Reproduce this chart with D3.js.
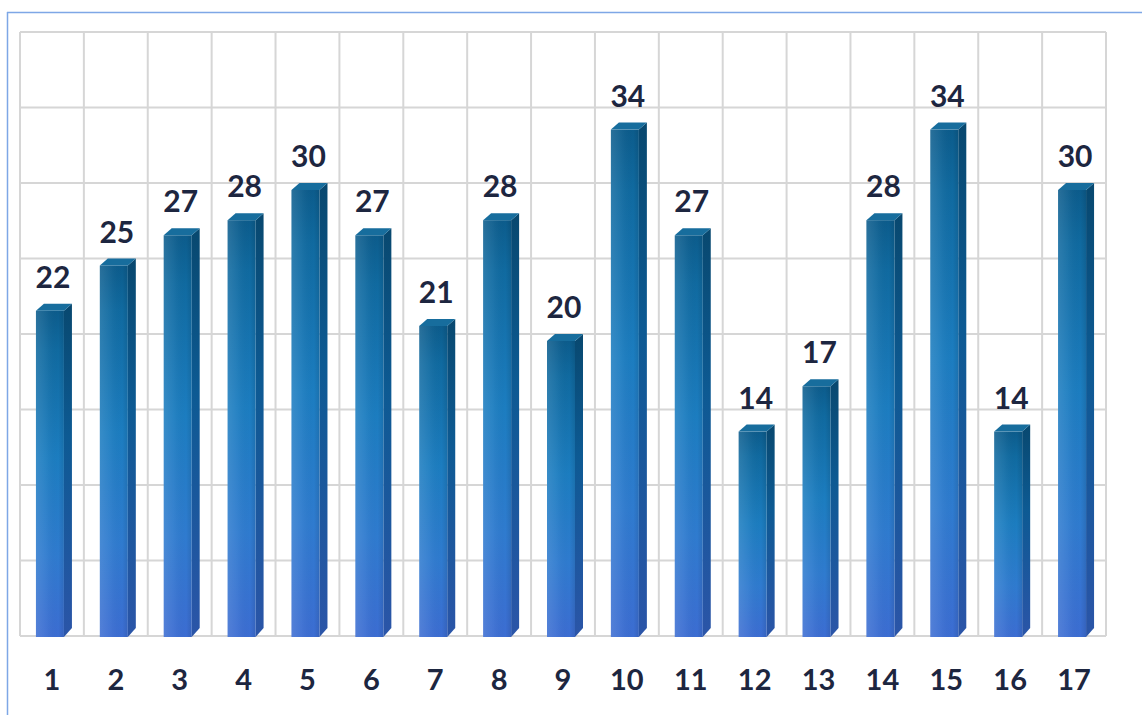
<!DOCTYPE html>
<html>
<head>
<meta charset="utf-8">
<script src="https://cdn.jsdelivr.net/npm/d3@7"></script>
<style>
  html, body { margin: 0; padding: 0; background: #ffffff; }
  svg { display: block; }
</style>
</head>
<body>
<svg id="chart" width="1142" height="715"></svg>
<script>
// Categories and values
const categories = ["1","2","3","4","5","6","7","8","9","10","11","12","13","14","15","16","17"];
const values = [22, 25, 27, 28, 30, 27, 21, 28, 20, 34, 27, 14, 17, 28, 34, 14, 30];
const gridTicks = [0, 5, 10, 15, 20, 25, 30, 35, 40];

const svg = d3.select("#chart");

// Plot geometry
const plotLeft = 20, plotRight = 1106, plotTop = 32, plotBottom = 636;
const depthX = 8, depthY = 7;

const x = d3.scaleBand().domain(categories).range([plotLeft, plotRight]).padding(0);
const y = d3.scaleLinear().domain([0, 40]).range([plotBottom, plotTop]);

// Outer frame lines (top and left)
svg.append("line").attr("x1", 7).attr("x2", 1142).attr("y1", 12.5).attr("y2", 12.5)
  .attr("stroke", "#7ea7e6").attr("stroke-width", 1.5);
svg.append("line").attr("x1", 7.5).attr("x2", 7.5).attr("y1", 12).attr("y2", 715)
  .attr("stroke", "#7ea7e6").attr("stroke-width", 1.5);

// Gradients
const defs = svg.append("defs");
const gFront = defs.append("linearGradient").attr("id", "front").attr("x1", 0).attr("y1", 0).attr("x2", 0).attr("y2", 1);
[[0, "#0c5c8c"], [0.12, "#106aa0"], [0.45, "#1c7dc0"], [0.75, "#2f7bcf"], [1, "#3c6dd2"]]
  .forEach(([o, c]) => gFront.append("stop").attr("offset", o).attr("stop-color", c));
const gShine = defs.append("linearGradient").attr("id", "shine").attr("x1", 0).attr("y1", 0).attr("x2", 1).attr("y2", 0);
[[0, "#ffffff", 0.12], [0.35, "#ffffff", 0.05], [0.8, "#000000", 0.0], [1, "#000000", 0.10]]
  .forEach(([o, c, a]) => gShine.append("stop").attr("offset", o).attr("stop-color", c).attr("stop-opacity", a));
const gSide = defs.append("linearGradient").attr("id", "side").attr("x1", 0).attr("y1", 0).attr("x2", 0).attr("y2", 1);
[[0, "#08486f"], [0.4, "#0d5a93"], [1, "#2b55a8"]]
  .forEach(([o, c]) => gSide.append("stop").attr("offset", o).attr("stop-color", c));

// Grid: horizontal lines at value ticks, vertical lines at category boundaries
const grid = svg.append("g").attr("stroke", "#d6d6d6").attr("stroke-width", 2);
grid.selectAll("line.h").data(gridTicks).join("line")
  .attr("x1", plotLeft).attr("x2", plotRight)
  .attr("y1", d => y(d)).attr("y2", d => y(d));
const bounds = categories.map(c => x(c)).concat([plotRight]);
grid.selectAll("line.v").data(bounds).join("line")
  .attr("x1", d => d).attr("x2", d => d)
  .attr("y1", plotTop).attr("y2", plotBottom);

// Bars
const bars = svg.append("g").selectAll("g").data(categories.map((c, i) => ({ c, v: values[i] }))).join("g");
bars.each(function (d) {
  const g = d3.select(this);
  const cx = x(d.c) + x.bandwidth() / 2;
  const x0 = cx - 16, x1 = cx + 12;
  const ft = y(d.v) + depthY;          // front face top
  const fb = plotBottom + 1;           // front face bottom
  // side face
  g.append("path")
    .attr("d", `M${x1},${ft} L${x1 + depthX},${ft - depthY} L${x1 + depthX},${fb - depthY - 2} L${x1},${fb} Z`)
    .attr("fill", "url(#side)");
  // front face
  g.append("rect").attr("x", x0).attr("y", ft).attr("width", x1 - x0).attr("height", fb - ft)
    .attr("fill", "url(#front)");
  g.append("rect").attr("x", x0).attr("y", ft).attr("width", x1 - x0).attr("height", fb - ft)
    .attr("fill", "url(#shine)");
  // top face
  g.append("path")
    .attr("d", `M${x0},${ft} L${x0 + depthX},${ft - depthY} L${x1 + depthX},${ft - depthY} L${x1},${ft} Z`)
    .attr("fill", "#176d9d");
  // value label
  g.append("text")
    .attr("x", cx + 1).attr("y", y(d.v) - 16)
    .attr("text-anchor", "middle")
    .attr("font-family", "Lato, 'Open Sans', sans-serif")
    .attr("font-weight", 700).attr("font-size", 30)
    .attr("fill", "#1d2640")
    .text(d.v);
});

// Category labels
svg.append("g").selectAll("text").data(categories).join("text")
  .attr("x", d => x(d) + x.bandwidth() / 2)
  .attr("y", 690)
  .attr("text-anchor", "middle")
  .attr("font-family", "Lato, 'Open Sans', sans-serif")
  .attr("font-weight", 700).attr("font-size", 29)
  .attr("fill", "#1d2640")
  .text(d => d);
</script>
</body>
</html>
